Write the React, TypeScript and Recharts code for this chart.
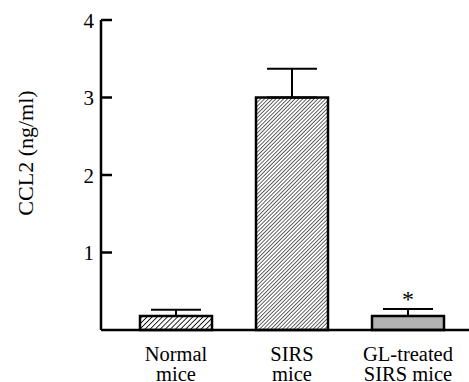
import React from 'react';
import { BarChart, Bar, XAxis, YAxis, ErrorBar, Cell, LabelList } from 'recharts';

// values
const groups = ['Normal\nmice', 'SIRS\nmice', 'GL-treated\nSIRS mice'];
const ccl2 = [0.18, 3.0, 0.18];
const sem = [0.08, 0.37, 0.09];
const marks = ['', '', '*'];
const yTicks = [1, 2, 3, 4];

const data = groups.map((g, i) => ({
  group: g,
  ccl2: ccl2[i],
  err: [0, sem[i]],
  mark: marks[i],
}));

const fills = ['url(#hatchSmall)', 'url(#hatch)', '#b3b3b3'];
const font = '"Liberation Serif", "Times New Roman", serif';

const YTick = ({ x, y, payload }: any) => (
  <g>
    <line x1={x} x2={x + 11} y1={y} y2={y} stroke="#000" strokeWidth={2.5} />
    <text x={x - 7} y={y} dy="0.36em" textAnchor="end" fontFamily={font} fontSize={21} fill="#000">
      {payload.value}
    </text>
  </g>
);

const XTick = ({ x, y, payload }: any) => {
  const lines = String(payload.value).split('\n');
  return (
    <text x={x} y={y} textAnchor="middle" fontFamily={font} fontSize={20.5} fill="#000">
      {lines.map((l, i) => (
        <tspan key={i} x={x} y={y + 31 + i * 19.5}>{l}</tspan>
      ))}
    </text>
  );
};

const Star = ({ x, y, width, value }: any) =>
  value ? (
    <text x={x + width / 2} y={y - 9} textAnchor="middle" fontFamily={font} fontSize={24} fill="#000">
      {value}
    </text>
  ) : null;

export default function App() {
  return (
    <div style={{ position: 'absolute', left: 0, top: 0, background: '#fff' }}>
      <svg width={0} height={0} style={{ position: 'absolute' }}>
        <defs>
          <pattern id="hatch" patternUnits="userSpaceOnUse" width={2.7} height={2.7} patternTransform="rotate(45)">
            <rect width={2.7} height={2.7} fill="#fff" />
            <line x1={0} y1={0} x2={0} y2={2.7} stroke="#111" strokeWidth={1.3} />
          </pattern>
          <pattern id="hatchSmall" patternUnits="userSpaceOnUse" width={3.6} height={3.6} patternTransform="rotate(45)">
            <rect width={3.6} height={3.6} fill="#fff" />
            <line x1={0} y1={0} x2={0} y2={3.6} stroke="#111" strokeWidth={1.8} />
          </pattern>
        </defs>
      </svg>
      <BarChart width={469} height={382} data={data} margin={{ top: 20, right: 0, bottom: 0, left: 0 }}>
        <XAxis
          dataKey="group"
          height={52}
          padding={{ left: 17, right: 3 }}
          axisLine={{ stroke: '#000', strokeWidth: 2.5 }}
          tickLine={false}
          tickSize={0}
          tickMargin={0}
          tick={<XTick />}
          interval={0}
        />
        <YAxis
          width={101}
          domain={[0, 4]}
          ticks={yTicks}
          axisLine={{ stroke: '#000', strokeWidth: 2.5 }}
          tickLine={false}
          tickSize={0}
          tickMargin={0}
          tick={<YTick />}
        />
        <Bar dataKey="ccl2" barSize={72} stroke="#000" strokeWidth={2.5} isAnimationActive={false}>
          {data.map((d, i) => (
            <Cell key={i} fill={fills[i]} />
          ))}
          <ErrorBar dataKey="err" width={25} stroke="#000" strokeWidth={2} />
          <LabelList dataKey="mark" content={<Star />} />
        </Bar>
        <text
          x={33}
          y={153}
          transform="rotate(-90 33 153)"
          textAnchor="middle"
          fontFamily={font}
          fontSize={22}
          fill="#000"
        >
          CCL2 (ng/ml)
        </text>
      </BarChart>
    </div>
  );
}
